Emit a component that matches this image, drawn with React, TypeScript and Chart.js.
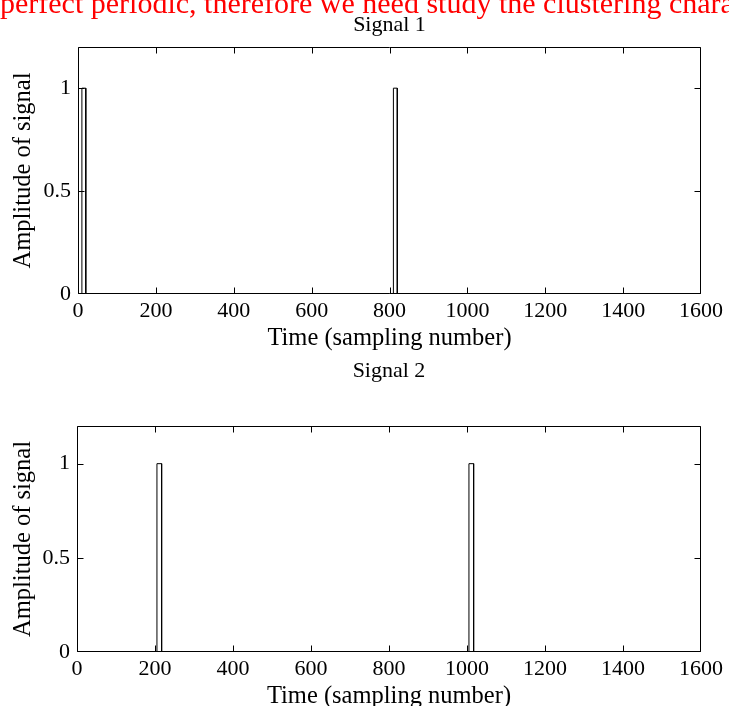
import React, { useEffect, useRef } from 'react';
import { Chart, registerables } from 'chart.js';

Chart.register(...registerables);

// ---- data ----
const xTickValues = [0, 200, 400, 600, 800, 1000, 1200, 1400, 1600];
const yTickValues = [0, 0.5, 1];
const signal1Time = [0, 10, 10, 20, 20, 810, 810, 820, 820, 1600];
const signal1Amp = [0, 0, 1, 1, 0, 0, 1, 1, 0, 0];
const signal2Time = [0, 205, 205, 217, 217, 1005, 1005, 1017, 1017, 1600];
const signal2Amp = [0, 0, 1, 1, 0, 0, 1, 1, 0, 0];
const chartTitles = ['Signal 1', 'Signal 2'];
const xAxisLabel = 'Time (sampling number)';
const yAxisLabel = 'Amplitude of signal';
const noteText = 'perfect periodic, therefore we need study the clustering characteristics of';

const FONT = "'Liberation Serif', 'Times New Roman', serif";
const TICK_LEN = 6;

const boxPlugin = {
  id: 'matlabBox',
  afterDatasetsDraw(chart: any) {
    const { ctx, chartArea: a, scales } = chart;
    const L = Math.round(a.left) + 0.5;
    const R = Math.round(a.right) - 0.5;
    const T = Math.round(a.top) + 0.5;
    const B = Math.round(a.bottom) - 0.5;
    const clamp = (v: number, lo: number, hi: number) => Math.max(lo, Math.min(hi, v));
    ctx.save();
    ctx.strokeStyle = '#000';
    ctx.lineWidth = 1;
    ctx.beginPath();
    ctx.rect(L, T, R - L, B - T);
    const xs = scales.x;
    xs.ticks.forEach((t: any) => {
      const px = clamp(Math.round(xs.getPixelForValue(t.value)) + 0.5, L, R);
      ctx.moveTo(px, B);
      ctx.lineTo(px, B - TICK_LEN);
      ctx.moveTo(px, T);
      ctx.lineTo(px, T + TICK_LEN);
    });
    const ys = scales.y;
    ys.ticks.forEach((t: any) => {
      const py = clamp(Math.round(ys.getPixelForValue(t.value)) + 0.5, T, B);
      ctx.moveTo(L, py);
      ctx.lineTo(L + TICK_LEN, py);
      ctx.moveTo(R, py);
      ctx.lineTo(R - TICK_LEN, py);
    });
    ctx.stroke();
    ctx.restore();
  },
};

type Layout = {
  top: number;
  height: number;
  titlePadTop: number;
  titlePadBottom: number;
  yAxisWidth: number;
  xAxisHeight: number;
  xTitlePadBottom: number;
  yTitlePadTop: number;
};

const TITLE_SIZE = 22;
const TICK_SIZE = 22;
const AXIS_TITLE_SIZE = 24.5;

function SignalChart({ time, amp, title, layout }: { time: number[]; amp: number[]; title: string; layout: Layout }) {
  const ref = useRef<HTMLCanvasElement | null>(null);
  useEffect(() => {
    if (!ref.current) return;
    const chart = new Chart(ref.current, {
      type: 'line',
      data: {
        datasets: [
          {
            data: time.map((t, i) => ({ x: t, y: amp[i] })),
            borderColor: '#000',
            borderWidth: 1,
            pointRadius: 0,
            tension: 0,
            fill: false,
          },
        ],
      },
      plugins: [boxPlugin],
      options: {
        responsive: false,
        animation: false,
        devicePixelRatio: 1,
        layout: { padding: 0, autoPadding: false },
        plugins: {
          legend: { display: false },
          tooltip: { enabled: false },
          title: {
            display: true,
            fullSize: false,
            text: title,
            color: '#000',
            font: { family: FONT, size: TITLE_SIZE, weight: 'normal', lineHeight: 1.2 },
            padding: { top: layout.titlePadTop, bottom: layout.titlePadBottom },
          },
        },
        scales: {
          x: {
            type: 'linear',
            min: 0,
            max: 1600,
            afterBuildTicks: (s: any) => {
              s.ticks = xTickValues.map((v) => ({ value: v }));
            },
            afterFit: (s: any) => {
              s.height = layout.xAxisHeight;
            },
            grid: { display: false, drawTicks: false },
            border: { display: false },
            ticks: {
              color: '#000',
              padding: 4,
              maxRotation: 0,
              autoSkip: false,
              font: { family: FONT, size: TICK_SIZE },
              callback: (v: any) => String(v),
            },
            title: {
              display: true,
              text: xAxisLabel,
              color: '#000',
              font: { family: FONT, size: AXIS_TITLE_SIZE, lineHeight: 1 },
              padding: { top: 0, bottom: layout.xTitlePadBottom },
            },
          },
          y: {
            type: 'linear',
            min: 0,
            max: 1.2,
            afterBuildTicks: (s: any) => {
              s.ticks = yTickValues.map((v) => ({ value: v }));
            },
            afterFit: (s: any) => {
              s.width = layout.yAxisWidth;
            },
            grid: { display: false, drawTicks: false },
            border: { display: false },
            ticks: {
              color: '#000',
              padding: 7,
              font: { family: FONT, size: TICK_SIZE },
              callback: (v: any) => String(v),
            },
            title: {
              display: true,
              text: yAxisLabel,
              color: '#000',
              font: { family: FONT, size: AXIS_TITLE_SIZE, lineHeight: 1 },
              padding: { top: layout.yTitlePadTop, bottom: 0 },
            },
          },
          yRight: {
            type: 'linear',
            position: 'right',
            display: true,
            min: 0,
            max: 1.2,
            grid: { display: false, drawTicks: false },
            border: { display: false },
            ticks: { display: false },
            afterFit: (s: any) => {
              s.width = 28;
            },
          },
        },
      } as any,
    });
    return () => chart.destroy();
  }, [time, amp, title, layout]);
  return (
    <canvas
      ref={ref}
      width={729}
      height={layout.height}
      style={{ position: 'absolute', left: 0, top: layout.top, width: 729, height: layout.height }}
    />
  );
}

const layout1: Layout = {
  top: 0,
  height: 355,
  titlePadTop: 12.2,
  titlePadBottom: 8.4,
  yAxisWidth: 78,
  xAxisHeight: 61,
  xTitlePadBottom: 4.5,
  yTitlePadTop: 11.5,
};
const layout2: Layout = {
  top: 355,
  height: 365,
  titlePadTop: 2.8,
  titlePadBottom: 41.8,
  yAxisWidth: 77,
  xAxisHeight: 68,
  xTitlePadBottom: 11,
  yTitlePadTop: 11.5,
};

export default function App() {
  return (
    <div
      style={{
        position: 'absolute',
        left: 0,
        top: 0,
        width: 729,
        height: 706,
        overflow: 'hidden',
        background: '#fff',
      }}
    >
      <SignalChart time={signal1Time} amp={signal1Amp} title={chartTitles[0]} layout={layout1} />
      <SignalChart time={signal2Time} amp={signal2Amp} title={chartTitles[1]} layout={layout2} />
      <div
        style={{
          position: 'absolute',
          left: 0,
          top: -12,
          whiteSpace: 'nowrap',
          color: '#ff0000',
          fontFamily: FONT,
          fontSize: 30,
          lineHeight: '30px',
        }}
      >
        {noteText}
      </div>
    </div>
  );
}
